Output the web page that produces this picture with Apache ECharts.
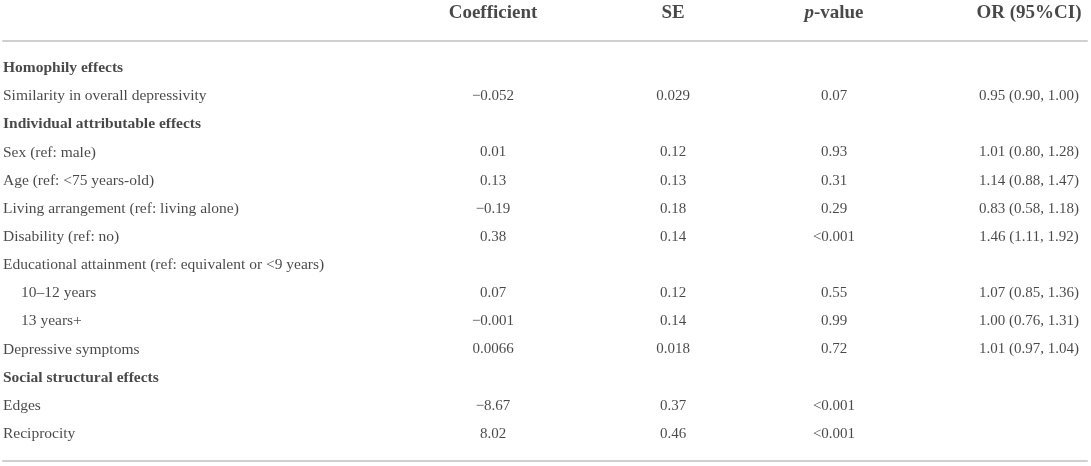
<!DOCTYPE html>
<html lang="en">
<head>
    <meta charset="UTF-8">
    <title>ERGM estimates</title>
    <style>
        html, body { margin: 0; padding: 0; background: #fff; }
    </style>
</head>
<body>
<div id="main" style="width: 1091px; height: 466px;"></div>

<script src="https://cdn.jsdelivr.net/npm/echarts@6/dist/echarts.min.js"></script>

<script>
// table content, one entry per body row
var rowLabels = [
    'Homophily effects',
    'Similarity in overall depressivity',
    'Individual attributable effects',
    'Sex (ref: male)',
    'Age (ref: <75 years-old)',
    'Living arrangement (ref: living alone)',
    'Disability (ref: no)',
    'Educational attainment (ref: equivalent or <9 years)',
    '10–12 years',
    '13 years+',
    'Depressive symptoms',
    'Social structural effects',
    'Edges',
    'Reciprocity'
];
// 'g' = group heading (bold), 'i' = item, 's' = indented sub item
var rowKind = ['g', 'i', 'g', 'i', 'i', 'i', 'i', 'i', 's', 's', 'i', 'g', 'i', 'i'];

var coefficient = ['', '−0.052', '', '0.01', '0.13', '−0.19', '0.38', '', '0.07', '−0.001', '0.0066', '', '−8.67', '8.02'];
var se = ['', '0.029', '', '0.12', '0.13', '0.18', '0.14', '', '0.12', '0.14', '0.018', '', '0.37', '0.46'];
var pValue = ['', '0.07', '', '0.93', '0.31', '0.29', '<0.001', '', '0.55', '0.99', '0.72', '', '<0.001', '<0.001'];
var orCI = ['', '0.95 (0.90, 1.00)', '', '1.01 (0.80, 1.28)', '1.14 (0.88, 1.47)', '0.83 (0.58, 1.18)', '1.46 (1.11, 1.92)', '',
    '1.07 (0.85, 1.36)', '1.00 (0.76, 1.31)', '1.01 (0.97, 1.04)', '', '', ''];

var columnHeaders = ['Coefficient', 'SE', 'p-value', 'OR (95%CI)'];

// layout: x anchor of each column (in grid units), text colour, font
var colX = [0, 490, 670, 831, 1026];
var ink = '#1c1a1a';
var rule = '#d0d0d0';
var serif = '"Liberation Serif", "DejaVu Serif", serif';

function cells(values, x) {
    var out = [];
    values.forEach(function (v, i) {
        if (v !== '') out.push([x, i, v]);
    });
    return out;
}

function textSeries(data, opts) {
    return Object.assign({
        type: 'scatter',
        symbolSize: 0,
        silent: true,
        clip: false,
        data: data,
        label: Object.assign({
            show: true,
            position: 'inside',
            color: ink,
            fontFamily: serif,
            fontSize: 15,
            formatter: function (p) { return p.value[2]; }
        }, opts.label || {})
    }, opts.series || {});
}

function ruleAxis(grid) {
    return {
        gridIndex: grid, type: 'value', min: 0, max: 1084, position: 'bottom',
        axisLine: {show: true, onZero: false, lineStyle: {color: rule, width: 2}},
        axisTick: {show: false}, axisLabel: {show: false}, splitLine: {show: false}
    };
}

var labelData = rowLabels.map(function (t, i) {
    return [colX[0], i, t, rowKind[i]];
});

var headerData = columnHeaders.map(function (t, i) {
    return [colX[i + 1], 0, t];
});

var myChart = echarts.init(document.getElementById('main'));

myChart.setOption({
    animation: false,
    grid: [
        {left: 3, right: 4, top: 0, height: 41},
        {left: 3, right: 4, top: 41, bottom: 5}
    ],
    xAxis: [ruleAxis(0), ruleAxis(1)],
    yAxis: [
        {gridIndex: 0, type: 'value', min: -1, max: 1, show: false},
        {gridIndex: 1, type: 'value', min: -0.96, max: 13.96, inverse: true, show: false}
    ],
    series: [
        // column headers
        textSeries(headerData, {
            series: {xAxisIndex: 0, yAxisIndex: 0},
            label: {
                offset: [0, -7],
                formatter: function (p) {
                    var t = p.value[2];
                    if (t === 'p-value') return '{i|p}{b|-value}';
                    return '{b|' + t + '}';
                },
                rich: {
                    b: {fontFamily: serif, fontSize: 19, fontWeight: 'bold', color: ink},
                    i: {fontFamily: serif, fontSize: 19, fontWeight: 'bold', fontStyle: 'italic', color: ink}
                }
            }
        }),
        // row labels
        textSeries(labelData, {
            series: {xAxisIndex: 1, yAxisIndex: 1},
            label: {
                align: 'left',
                formatter: function (p) {
                    var kind = p.value[3];
                    var t = p.value[2];
                    if (kind === 'g') return '{g|' + t + '}';
                    if (kind === 's') return '{s|' + t + '}';
                    return '{n|' + t + '}';
                },
                rich: {
                    g: {fontFamily: serif, fontSize: 15.5, fontWeight: 'bold', color: ink},
                    n: {fontFamily: serif, fontSize: 15.5, color: ink},
                    s: {fontFamily: serif, fontSize: 15.5, color: ink, padding: [0, 0, 0, 18]}
                }
            }
        }),
        textSeries(cells(coefficient, colX[1]), {series: {xAxisIndex: 1, yAxisIndex: 1}}),
        textSeries(cells(se, colX[2]), {series: {xAxisIndex: 1, yAxisIndex: 1}}),
        textSeries(cells(pValue, colX[3]), {series: {xAxisIndex: 1, yAxisIndex: 1}}),
        textSeries(cells(orCI, colX[4]), {series: {xAxisIndex: 1, yAxisIndex: 1}})
    ]
});
</script>
</body>
</html>
